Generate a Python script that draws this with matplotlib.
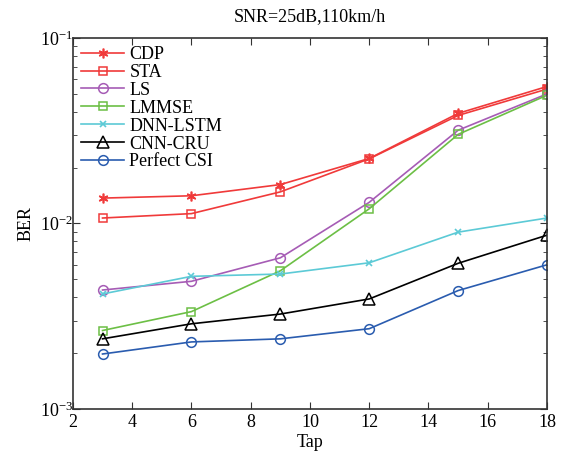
import numpy as np
import matplotlib.pyplot as plt

plt.rcParams['font.family'] = ['Liberation Serif', 'DejaVu Serif']
plt.rcParams['mathtext.fontset'] = 'stix'

taps = [3, 6, 9, 12, 15, 18]
cdp = [0.0137, 0.0141, 0.0162, 0.0224, 0.0392, 0.0547]
sta = [0.0107, 0.0113, 0.0148, 0.0223, 0.0382, 0.0530]
ls = [0.00438, 0.00488, 0.00653, 0.0130, 0.0318, 0.0499]
lmmse = [0.00265, 0.00335, 0.00556, 0.0120, 0.0302, 0.0491]
dnn_lstm = [0.00417, 0.00519, 0.00534, 0.00614, 0.00898, 0.0107]
cnn_cru = [0.00239, 0.00288, 0.00325, 0.00392, 0.0061, 0.00865]
perfect = [0.00198, 0.0023, 0.00239, 0.00271, 0.00435, 0.00599]

fig = plt.figure(figsize=(5.74, 4.51), dpi=100)
ax = fig.add_axes([0.127, 0.093, 0.826, 0.823])

ax.plot(taps, cdp, color='#f03a3a', marker=(6, 2, 0), ms=7, mew=1.2, lw=1.2, label='CDP')
ax.plot(taps, sta, color='#f03a3a', marker='s', ms=6, mfc='none', mew=1.1, lw=1.2, label='STA')
ax.plot(taps, ls, color='#a65cb5', marker='o', ms=7, mfc='none', mew=1.1, lw=1.2, label='LS')
ax.plot(taps, lmmse, color='#6cbf45', marker='s', ms=6, mfc='none', mew=1.1, lw=1.2, label='LMMSE')
ax.plot(taps, dnn_lstm, color='#5ccad6', marker='x', ms=5, mew=1.2, lw=1.2, label='DNN-LSTM')
ax.plot(taps, cnn_cru, color='black', marker='^', ms=8, mfc='none', mew=1.1, lw=1.2, label='CNN-CRU')
ax.plot(taps, perfect, color='#2a5caf', marker='o', ms=7, mfc='none', mew=1.1, lw=1.2, label='Perfect CSI')

ax.set_yscale('log')
ax.set_xlim(2, 18)
ax.set_ylim(1e-3, 1e-1)
ax.set_xticks(np.arange(2, 19, 2))
ax.tick_params(which='both', direction='in', top=True, right=True, labelsize=13, color='#333333')
ax.tick_params(which='major', length=5)
ax.tick_params(which='minor', length=3)
ax.tick_params(axis='y', pad=0)
for s in ax.spines.values():
    s.set_color('#333333')
    s.set_linewidth(1.2)

ax.set_xlabel('Tap', fontsize=13, labelpad=2)
ax.set_ylabel('BER', fontsize=13, labelpad=4)
ax.set_title('SNR=25dB,110km/h', fontsize=13, pad=12)

ax.legend(loc='upper left', frameon=False, fontsize=13, handlelength=2.4,
          handletextpad=0.28, labelspacing=0.05, borderaxespad=0.2,
          borderpad=0.25)

fig.savefig('out.png', dpi=100)
